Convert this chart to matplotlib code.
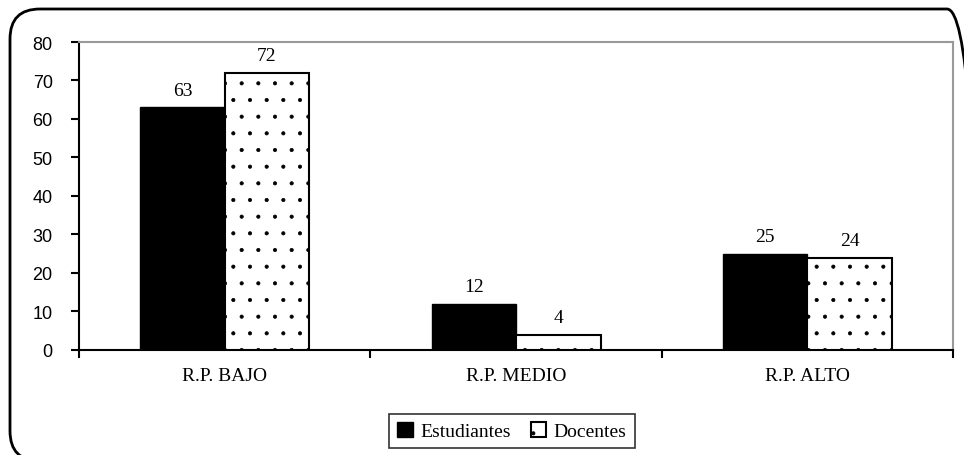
import numpy as np
import matplotlib.pyplot as plt
from matplotlib.patches import FancyBboxPatch

plt.rcParams['hatch.linewidth'] = 0.5

categorias = ["R.P. BAJO", "R.P. MEDIO", "R.P. ALTO"]
estudiantes = [63, 12, 25]
docentes = [72, 4, 24]

fig = plt.figure(figsize=(9.64, 4.56), dpi=100)
ax = fig.add_axes([0.082, 0.2303, 0.9066, 0.6754])

# marco redondeado (en pulgadas, sale por la derecha y por abajo)
marco = FancyBboxPatch((0.10, -0.06), 9.67, 4.52,
                       boxstyle="round,pad=0,rounding_size=0.30",
                       transform=fig.dpi_scale_trans, fill=False,
                       edgecolor="black", linewidth=2, zorder=0)
fig.patches.append(marco)

x = np.arange(len(categorias))
w = 0.29
b1 = ax.bar(x - w / 2, estudiantes, w, color="black", edgecolor="black",
            label="Estudiantes", zorder=3)
b2 = ax.bar(x + w / 2, docentes, w, color="white", edgecolor="black",
            hatch=".", linewidth=1.5, label="Docentes", zorder=3)

serif = "Liberation Serif"
for bars in (b1, b2):
    for r in bars:
        ax.text(r.get_x() + r.get_width() / 2, r.get_height() + 2.3,
                f"{int(r.get_height())}", ha="center", va="bottom",
                fontsize=14, family=serif)

ax.set_xlim(-0.5, 2.5)
ax.set_ylim(0, 80)
ax.set_yticks(range(0, 81, 10))
ax.set_yticklabels([str(v) for v in range(0, 81, 10)],
                   family="Liberation Sans", fontsize=13)
ax.set_xticks(x)
ax.set_xticklabels(categorias, family=serif, fontsize=14)
ax.tick_params(axis="x", length=0, pad=12)
ax.set_xticks([-0.5, 0.5, 1.5, 2.5], minor=True)
ax.tick_params(axis="x", which="minor", length=6, width=1.5, direction="out")
ax.tick_params(axis="y", length=6, width=1.5, direction="out", pad=13)

for s in ("top", "right"):
    ax.spines[s].set_color("#999999")
    ax.spines[s].set_linewidth(1.5)
for s in ("left", "bottom"):
    ax.spines[s].set_color("black")
    ax.spines[s].set_linewidth(1.5)

leg = ax.legend(loc="center", bbox_to_anchor=(512 / 964, 1 - 432 / 456),
                bbox_transform=fig.transFigure, ncol=2, frameon=True,
                fancybox=False, edgecolor="black", handlelength=0.8,
                handleheight=0.8, handletextpad=0.4, columnspacing=1.0,
                borderpad=0.4, prop={"family": serif, "size": 14})
leg.get_frame().set_linewidth(1.2)

fig.savefig("out.png", dpi=100)
